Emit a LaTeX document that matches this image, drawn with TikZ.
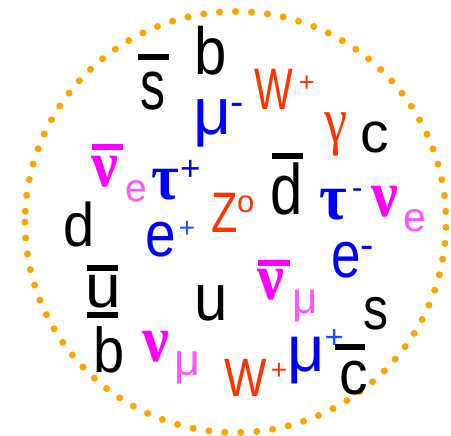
\documentclass[tikz,border=0pt]{standalone}
\usepackage{graphicx}
\usepackage{fontspec}
\setmainfont{Liberation Sans}
\newfontfamily\grk{Liberation Serif}
\usepackage{tikz}
\definecolor{qblack}{HTML}{000000}
\definecolor{lblue}{HTML}{0000FF}
\definecolor{lbluelt}{HTML}{1F4FFF}
\definecolor{nmag}{HTML}{FF00FF}
\definecolor{nmaglt}{HTML}{FF55FF}
\definecolor{bred}{HTML}{FF3300}
\definecolor{dotorange}{HTML}{FFA500}
% size, vertical stretch, text
\newcommand{\ptxt}[3]{\scalebox{1}[#2]{\fontsize{#1}{#1}\selectfont #3}}
\newcommand{\gtxt}[3]{\scalebox{1}[#2]{\fontsize{#1}{#1}\selectfont\grk\bfseries #3}}

\begin{document}
\begin{tikzpicture}[x=1pt,y=-1pt,
  ptl/.style={inner sep=0pt,anchor=base west},
  quark/.style={ptl,text=qblack},
  lep/.style={ptl,text=lblue},
  neu/.style={ptl,text=nmag},
  bos/.style={ptl,text=bred},
  antibar/.style={line width=6pt}
]
\useasboundingbox (0,0) rectangle (451,436);
% the dotted ring
\draw[dotorange,line width=7pt,line cap=round,dash pattern=on 0pt off 16pt]
  (25,222) arc[start angle=180,end angle=-180,radius=210.5];

% quarks
\node[quark] (sbar) at (140.2,110) {\ptxt{50}{1.4}{s}};
\node[quark] (btop) at (194,75) {\ptxt{58}{1.15}{b}};
\node[quark] (ctop) at (360.7,153) {\ptxt{57}{1.0}{c}};
\node[quark] (dbar) at (270.3,215) {\ptxt{58}{1.23}{d}};
\node[quark] (dleft) at (63.3,247) {\ptxt{56}{1.1}{d}};
\node[quark] (ubar) at (85.5,308) {\ptxt{64}{0.95}{u}};
\node[quark] (bbar) at (93,373) {\ptxt{56}{1.13}{b}};
\node[quark] (ucen) at (193.8,320) {\ptxt{60}{1.1}{u}};
\node[quark] (cbar) at (339.7,395) {\ptxt{57}{1.09}{c}};
\node[quark] (sright) at (363.5,330) {\ptxt{50}{1.2}{s}};
\draw[antibar] (138,57) -- (168.5,57);
\draw[antibar] (272,156) -- (303,156);
\draw[antibar] (87,268) -- (118,268);
\draw[antibar] (87,315.5) -- (118,315.5);
\draw[antibar] (335,347.5) -- (365,347.5);

% charged leptons
\node[lep] (mum) at (193.5,135) {\ptxt{66}{1.0}{μ}};
\node[ptl,text=lblue] (mum-s) at (230,115.8) {\ptxt{40}{1.0}{-}};
\node[lep] (taum) at (319,220) {\gtxt{60}{1.1}{τ}};
\node[ptl,text=lblue] (taum-s) at (351.6,198.6) {\ptxt{32}{1.0}{-}};
\node[lep] (ep) at (144.8,257) {\ptxt{55}{1.16}{e}};
\node[ptl,text=lbluelt] (ep-s) at (178.6,238) {\ptxt{28}{1.0}{+}};
\node[lep] (taup) at (151,200) {\gtxt{60}{1.1}{τ}};
\node[ptl,text=lblue] (taup-s) at (180,180.6) {\ptxt{35}{1.0}{+}};
\node[lep] (mup) at (287.5,372) {\ptxt{65}{1.0}{μ}};
\node[ptl,text=lbluelt] (mup-s) at (324.3,348.6) {\ptxt{33}{1.0}{+}};
\node[lep] (em) at (330.9,278) {\ptxt{53}{1.24}{e}};
\node[ptl,text=lblue] (em-s) at (360.2,258.8) {\ptxt{40}{1.0}{-}};

% neutrinos
\node[neu] (nue) at (371,217) {\gtxt{60}{1.1}{ν}};
\node[ptl,text=nmaglt] (nue-s) at (403.4,232) {\ptxt{41}{1.0}{e}};
\node[neu] (nuebar) at (91,187) {\gtxt{60}{1.1}{ν}};
\node[ptl,text=nmaglt] (nuebar-s) at (125.4,202) {\ptxt{39}{1.0}{e}};
\node[neu] (numu) at (142,362) {\gtxt{60}{1.1}{ν}};
\node[ptl,text=nmaglt] (numu-s) at (174.8,375.5) {\ptxt{45}{1.0}{μ}};
\node[neu] (numubar) at (257,300) {\gtxt{60}{1.1}{ν}};
\node[ptl,text=nmaglt] (numubar-s) at (291.9,313.8) {\ptxt{44}{1.0}{μ}};
\draw[antibar,nmag] (92,147) -- (123,147);
\draw[antibar,nmag] (258,263) -- (290,263);

% gauge bosons
\node[bos] (wtop) at (254.5,110) {\ptxt{41}{1.43}{W}};
\node[bos] (wtop-s) at (298.6,92) {\ptxt{27}{1.0}{+}};
\node[bos] (wbot) at (224.5,397) {\ptxt{45}{1.2}{W}};
\node[bos] (wbot-s) at (270.6,380) {\ptxt{28}{1.0}{+}};
\node[bos] (zzero) at (211.6,233) {\ptxt{43}{1.33}{Z}};
\node[bos] (zzero-s) at (236.8,213) {\ptxt{31}{1.0}{o}};
\node[bos] (gam) at (324.5,143) {\scalebox{1}[1.25]{\fontsize{52}{52}\selectfont\grk γ}};
\end{tikzpicture}
\end{document}
